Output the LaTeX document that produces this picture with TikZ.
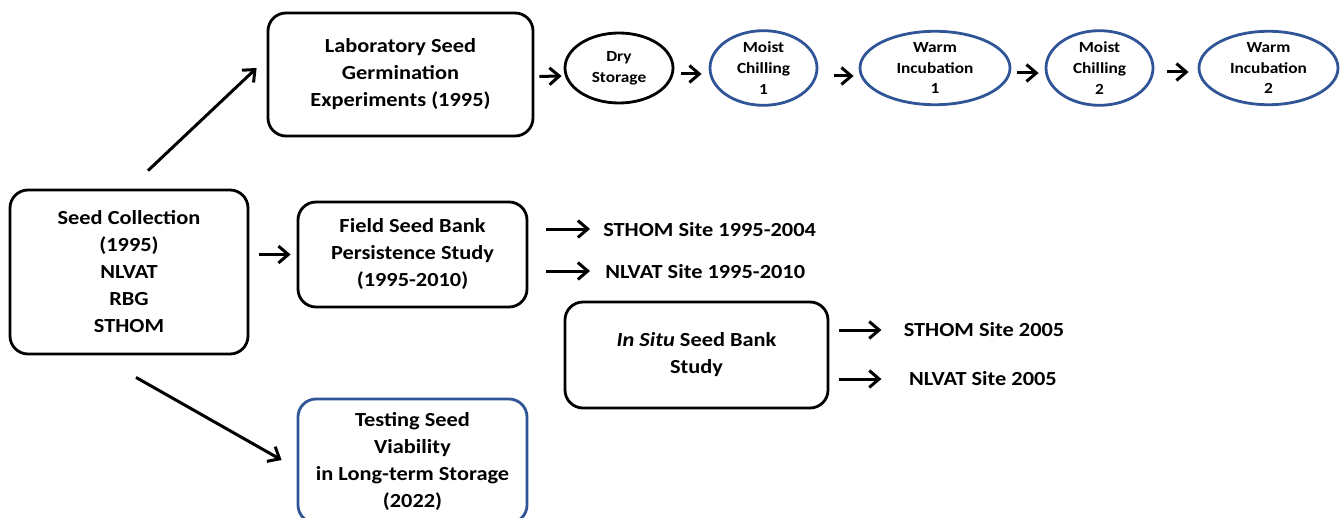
\documentclass[tikz,border=0pt]{standalone}
\usepackage{fontspec}
\setmainfont{Carlito}[FakeStretch=1.12]
\usepackage{tikz}
\usetikzlibrary{calc, positioning, shapes.geometric, arrows.meta}
\definecolor{boxblue}{RGB}{47,85,151}
\newdimen\pxu \pxu=0.025cm

\begin{document}
\begin{tikzpicture}[x=0.025cm, y=-0.025cm,
    every node/.style={font=\bfseries\fontsize{14.2}{19.2}\selectfont, align=center},
    stepbox/.style={draw, rounded corners=18\pxu, line width=2.8\pxu, inner sep=0pt},
    bluebox/.style={stepbox, draw=boxblue},
    phase/.style={ellipse, draw=boxblue, line width=2.8\pxu, inner sep=0pt,
      font=\bfseries\fontsize{11}{14.9}\selectfont},
    dryphase/.style={phase, draw=black},
    arr/.style={-{Straight Barb[length=7pt,width=12pt]}, line width=3\pxu},
    site/.style={anchor=west, inner sep=0pt},
  ]
  \useasboundingbox (0,0) rectangle (1341,518);
  \clip (0,0) rectangle (1341,518);

  % boxes
  \node[stepbox, minimum width=238\pxu, minimum height=164\pxu] (seed) at (129,272)
    {Seed Collection\\(1995)\\NLVAT\\RBG\\STHOM};
  \node[stepbox, minimum width=265\pxu, minimum height=123\pxu] (lab) at (400.5,74.5)
    {Laboratory Seed\\Germination\\Experiments (1995)};
  \node[stepbox, minimum width=229\pxu, minimum height=105\pxu] (field) at (412.5,254.5)
    {Field Seed Bank\\Persistence Study\\(1995-2010)};
  \node[bluebox, minimum width=229\pxu, minimum height=124\pxu] (viab) at (412.5,461)
    {Testing Seed\\Viability\\in Long-term Storage\\(2022)};
  \node[stepbox, minimum width=263\pxu, minimum height=106\pxu] (insitu) at (696.5,355)
    {\textit{In Situ} Seed Bank\\Study};

  % germination phases
  \node[dryphase, minimum width=108\pxu, minimum height=70\pxu] (dry) at (619,68) {Dry\\Storage};
  \node[phase, minimum width=107\pxu, minimum height=72\pxu] (mc1) at (763.5,68) {Moist\\Chilling\\1};
  \node[phase, minimum width=150\pxu, minimum height=72\pxu] (wi1) at (935,68) {Warm\\Incubation\\1};
  \node[phase, minimum width=107\pxu, minimum height=72\pxu] (mc2) at (1099.5,68) {Moist\\Chilling\\2};
  \node[phase, minimum width=139\pxu, minimum height=72\pxu] (wi2) at (1268.5,68) {Warm\\Incubation\\2};

  % sites
  \node[site] (st1) at (603,230) {STHOM Site 1995-2004};
  \node[site] (nl1) at (605,272) {NLVAT Site 1995-2010};
  \node (st2) at (984,330) {STHOM Site 2005};
  \node (nl2) at (983,379) {NLVAT Site 2005};

  % arrows
  \draw[arr] ($(seed.north)+(19,-18)$) -- ($(lab.west)+(-10,-6.5)$);
  \draw[arr] ($(seed.east |- field.west)+(10,0)$) -- ($(field.west)+(-6,0)$);
  \draw[arr] ($(seed.south)+(7,22)$) -- ($(viab.west)+(-15,-1)$);

  \draw[arr, shorten <=5\pxu, shorten >=2\pxu] ([yshift=-2\pxu]lab.east) -- ([yshift=-8\pxu]dry.west);
  \draw[arr, shorten <=7\pxu, shorten >=7\pxu] ([yshift=-6\pxu]dry.east) -- ([yshift=-6\pxu]mc1.west);
  \draw[arr, shorten <=16\pxu, shorten >=5\pxu] ([yshift=-8\pxu]mc1.east) -- ([yshift=-8\pxu]wi1.west);
  \draw[arr, shorten <=6\pxu, shorten >=6\pxu] ([yshift=-5\pxu]wi1.east) -- ([yshift=-5\pxu]mc2.west);
  \draw[arr, shorten <=13\pxu, shorten >=9\pxu] ([yshift=-4\pxu]mc2.east) -- ([yshift=-4\pxu]wi2.west);

  \draw[arr] ($(st1.west)+(-57,-1)$) -- ($(st1.west)+(-13,-1)$);
  \draw[arr] ($(nl1.west)+(-59,-1)$) -- ($(nl1.west)+(-15,-1)$);
  \draw[arr] ($(insitu.east |- st2)+(10,0)$) -- ($(insitu.east |- st2)+(52,0)$);
  \draw[arr] ($(insitu.east |- nl2)+(10,0)$) -- ($(insitu.east |- nl2)+(52,0)$);
\end{tikzpicture}
\end{document}
